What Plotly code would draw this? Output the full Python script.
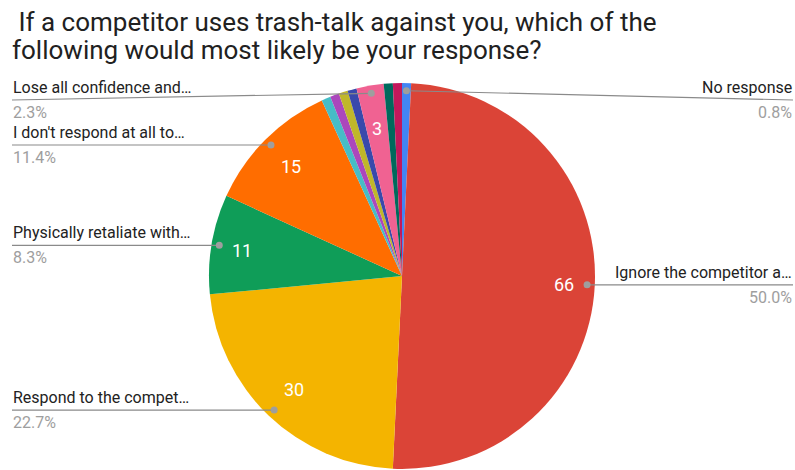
import math
import plotly.graph_objects as go

# Survey answers, listed clockwise from 12 o'clock
categories = [
    "No response",
    "Ignore the competitor a…",
    "Respond to the compet…",
    "Physically retaliate with…",
    "I don't respond at all to…",
    "Other answer 1",
    "Other answer 2",
    "Other answer 3",
    "Other answer 4",
    "Lose all confidence and…",
    "Other answer 5",
    "Other answer 6",
]
counts = [1, 66, 30, 11, 15, 1, 1, 1, 1, 3, 1, 1]
slice_colors = [
    "#4285F4", "#DB4437", "#F4B400", "#0F9D58", "#FF6D00", "#46BDC6",
    "#AB47BC", "#C0B72A", "#3949AB", "#F06292", "#00695C", "#C2185B",
]
# answers that get an outside callout with name and share
callout_names = [
    "No response",
    "Ignore the competitor a…",
    "Respond to the compet…",
    "Physically retaliate with…",
    "I don't respond at all to…",
    "Lose all confidence and…",
]
title_lines = [
    "\u00a0If a competitor uses trash-talk against you, which of the",
    "following would most likely be your response?",
]

W, H = 795, 470
CX, CY, R = 402, 276, 193          # pie centre and radius in pixels
DOT_R = 0.96 * R                   # callout anchor radius
MIN_LINE_Y = 100                   # keep callouts clear of the title
FONT = "Roboto, 'Noto Sans', Arial, sans-serif"


def px(x):
    return x / W


def py(y):
    return 1 - y / H


total = sum(counts)
show_value = [c >= 3 for c in counts]

fig = go.Figure(
    go.Pie(
        labels=categories,
        values=counts,
        sort=False,
        direction="clockwise",
        rotation=0,
        marker=dict(colors=slice_colors, line=dict(width=0)),
        textinfo="none",
        hoverinfo="label+value+percent",
        domain=dict(x=[px(CX - R), px(CX + R)], y=[py(CY + R), py(CY - R)]),
        showlegend=False,
    )
)

annotations = []
shapes = []

# two-line title, 28px apart
for i, line in enumerate(title_lines):
    annotations.append(dict(
        text=line, x=px(10), y=py(5 + 28 * i), xref="paper", yref="paper",
        xanchor="left", yanchor="top", align="left", showarrow=False,
        font=dict(family=FONT, size=26, color="#212121"),
    ))

start = 0.0
for name, val, col, sv in zip(categories, counts, slice_colors, show_value):
    span = 360.0 * val / total
    mid = math.radians(start + span / 2)
    start += span
    sx, sy = math.sin(mid), -math.cos(mid)

    if sv:
        # counts sit a little further out where the text lies across the radius
        vr = R * (0.78 + 0.06 * sx * sx)
        annotations.append(dict(
            text=str(val), x=px(CX + vr * sx), y=py(CY + vr * sy + 1),
            xref="paper", yref="paper", xanchor="center", yanchor="middle",
            showarrow=False,
            font=dict(family=FONT, size=18, color="#ffffff"),
        ))

    if name not in callout_names:
        continue
    dx, dy = CX + DOT_R * sx, CY + DOT_R * sy
    line_y = max(dy, MIN_LINE_Y)
    right = sx > 0
    edge_x = 793 if right else 12
    shapes.append(dict(
        type="line", xref="paper", yref="paper",
        x0=px(dx), y0=py(dy), x1=px(edge_x), y1=py(line_y),
        line=dict(color="#8a8a8a", width=1.2),
    ))
    shapes.append(dict(
        type="circle", xref="paper", yref="paper",
        x0=px(dx - 3.5), x1=px(dx + 3.5), y0=py(dy - 3.5), y1=py(dy + 3.5),
        fillcolor="#9e9e9e", line=dict(width=0),
    ))
    anchor = "right" if right else "left"
    tx = px(edge_x + 1) if right else px(edge_x - 1)
    annotations.append(dict(
        text=name, x=tx, y=py(line_y - 1), xref="paper", yref="paper",
        xanchor=anchor, yanchor="bottom", showarrow=False,
        font=dict(family=FONT, size=16, color="#222222"),
    ))
    annotations.append(dict(
        text=f"{100 * val / total:.1f}%", x=tx, y=py(line_y + 1),
        xref="paper", yref="paper", xanchor=anchor, yanchor="top",
        showarrow=False, font=dict(family=FONT, size=16, color="#9e9e9e"),
    ))

fig.update_layout(
    width=W, height=H,
    margin=dict(l=0, r=0, t=0, b=0),
    paper_bgcolor="#ffffff",
    plot_bgcolor="#ffffff",
    annotations=annotations,
    shapes=shapes,
    font=dict(family=FONT),
)

fig.write_html("out.html", config={"displayModeBar": False})
